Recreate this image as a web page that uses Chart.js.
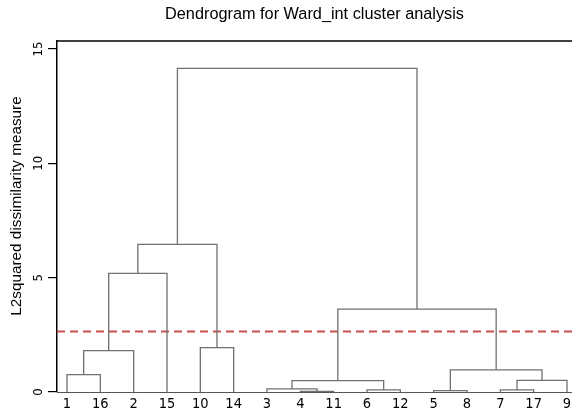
<!DOCTYPE html>
<html>
<head>
<meta charset="utf-8">
<script src="https://cdn.jsdelivr.net/npm/chart.js@4.4.1/dist/chart.umd.min.js"></script>
<style>
  html, body { margin: 0; padding: 0; background: #fff; }
</style>
</head>
<body>
<canvas id="dendro" width="572" height="413"></canvas>
<script>
// leaves in the order they sit along the x axis
const leafOrder = ['1', '16', '2', '15', '10', '14', '3', '4', '11', '6', '12', '5', '8', '7', '17', '9'];
// merges, in order of height; later merges refer to earlier ones as c1, c2, ...
const mergeLeft = ['4', '5', '6', '7', '3', 'c5', 'c4', '1', 'c2', 'c8', '10', 'c6', 'c10', 'c13', 'c14'];
const mergeRight = ['11', '8', '12', '17', 'c1', 'c3', '9', '16', 'c7', '2', '14', 'c9', '15', 'c11', 'c12'];
const mergeHeight = [0.03, 0.06, 0.09, 0.09, 0.14, 0.50, 0.51, 0.76, 0.97, 1.81, 1.94, 3.62, 5.19, 6.46, 14.15];
const yTicks = [0, 5, 10, 15];
const cutHeight = 2.65;

const FONT = '"Liberation Sans", Arial, sans-serif';
const NARROW = '"Liberation Sans Narrow", "DejaVu Sans Condensed", "Liberation Sans", sans-serif';

// build the U-shaped links of the tree
const nodes = {};
leafOrder.forEach((lab, i) => { nodes[lab] = { x: i, y: 0 }; });
const links = mergeLeft.map((a, i) => {
    const A = nodes[a];
    const B = nodes[mergeRight[i]];
    const h = mergeHeight[i];
    nodes['c' + (i + 1)] = { x: (A.x + B.x) / 2, y: h };
    return [{ x: A.x, y: A.y }, { x: A.x, y: h }, { x: B.x, y: h }, { x: B.x, y: B.y }];
});

const X_MIN = -0.3, X_MAX = 15.15, Y_MAX = 15.35;

const datasets = links.map(pts => ({
    data: pts,
    showLine: true,
    borderColor: '#707070',
    borderWidth: 1.3,
    pointRadius: 0,
    fill: false
}));
datasets.push({
    data: [{ x: X_MIN, y: cutHeight }, { x: X_MAX, y: cutHeight }],
    showLine: true,
    borderColor: '#c8504f',
    borderWidth: 2,
    borderDash: [8, 5],
    pointRadius: 0,
    fill: false
});

// title, y axis title, frame top and rotated y tick labels
const extras = {
    id: 'extras',
    afterDraw(chart) {
        const ctx = chart.ctx;
        const area = chart.chartArea;
        const y = chart.scales.y;
        ctx.save();
        ctx.strokeStyle = '#000';
        ctx.lineWidth = 1.3;
        ctx.beginPath();
        ctx.moveTo(area.left, area.top);
        ctx.lineTo(area.right, area.top);
        ctx.stroke();

        ctx.fillStyle = '#000';
        ctx.font = '16.3px ' + FONT;
        ctx.textAlign = 'center';
        ctx.textBaseline = 'middle';
        ctx.fillText('Dendrogram for Ward_int cluster analysis', (area.left + area.right) / 2, 15);

        ctx.save();
        ctx.font = '15.3px ' + FONT;
        ctx.translate(17, 206);
        ctx.rotate(-Math.PI / 2);
        ctx.fillText('L2squared dissimilarity measure', 0, 0);
        ctx.restore();

        ctx.font = '13px ' + NARROW;
        yTicks.forEach(v => {
            ctx.save();
            ctx.translate(39, y.getPixelForValue(v));
            ctx.rotate(-Math.PI / 2);
            ctx.fillText(String(v), 0, 0);
            ctx.restore();
        });
        ctx.restore();
    }
};

new Chart(document.getElementById('dendro').getContext('2d'), {
    type: 'scatter',
    data: { datasets: datasets },
    options: {
        responsive: false,
        animation: false,
        layout: { padding: { top: 41, right: 0, bottom: 0, left: 0 } },
        plugins: {
            legend: { display: false },
            tooltip: { enabled: false }
        },
        scales: {
            x: {
                type: 'linear',
                min: X_MIN,
                max: X_MAX,
                afterBuildTicks: s => { s.ticks = leafOrder.map((_, i) => ({ value: i })); },
                afterFit: s => { s.height = 21; s.paddingRight = 0; s.paddingLeft = 0; },
                ticks: {
                    autoSkip: false,
                    maxRotation: 0,
                    padding: 4,
                    color: '#000',
                    font: { family: NARROW, size: 14.5 },
                    callback: v => leafOrder[v]
                },
                grid: { display: false, drawTicks: false },
                border: { color: '#555', width: 1 }
            },
            y: {
                type: 'linear',
                min: 0,
                max: Y_MAX,
                afterBuildTicks: s => { s.ticks = yTicks.map(v => ({ value: v })); },
                afterFit: s => { s.width = 57; },
                ticks: { display: false },
                grid: { drawOnChartArea: false, drawTicks: true, tickLength: 9, color: '#000', lineWidth: 1.2 },
                border: { color: '#000', width: 1.5 }
            }
        }
    },
    plugins: [extras]
});
</script>
</body>
</html>
